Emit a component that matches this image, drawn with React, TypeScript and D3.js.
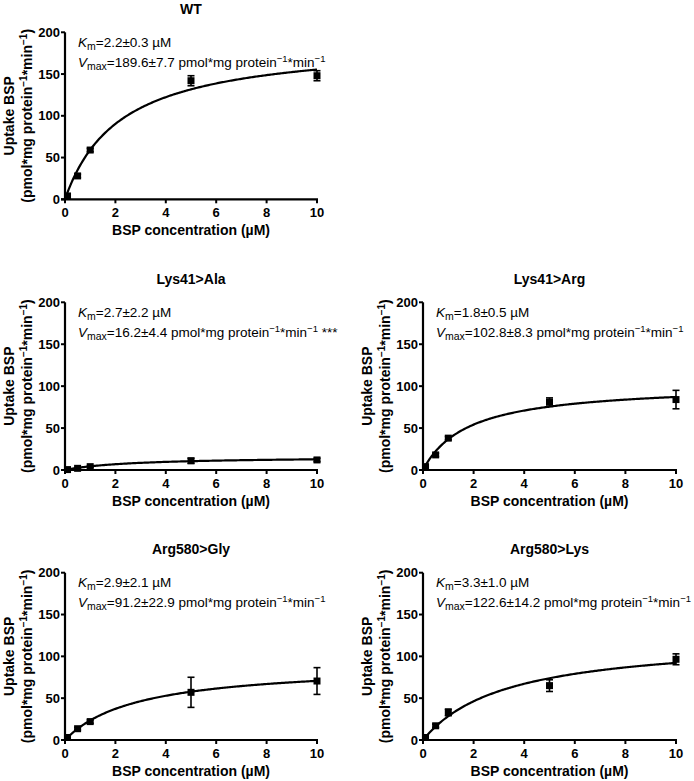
import React from "react";
import * as d3 from "d3";

const conc = [0.1, 0.5, 1, 5, 10];
const xTicks = [0, 2, 4, 6, 8, 10];
const yTicks = [0, 50, 100, 150, 200];

const panelNames = ["WT", "Lys41>Ala", "Lys41>Arg", "Arg580>Gly", "Arg580>Lys"];
const kmText = ["2.2±0.3", "2.7±2.2", "1.8±0.5", "2.9±2.1", "3.3±1.0"];
const vmaxText = ["189.6±7.7", "16.2±4.4", "102.8±8.3", "91.2±22.9", "122.6±14.2"];
const vmaxSuffix = ["", " ***", "", "", ""];
const kmFit = [2.2, 2.7, 1.8, 2.9, 3.3];
const vmaxFit = [189.6, 16.2, 102.8, 91.2, 122.6];

const wtMean = [4, 28, 59, 142, 148];
const wtErr = [1, 2, 2, 6, 6];
const alaMean = [0.5, 2, 4, 11, 12];
const alaErr = [0.5, 1, 1, 3, 2];
const argMean = [4, 18, 38, 81, 84];
const argErr = [1, 2, 2, 5, 11];
const glyMean = [3, 13.5, 22, 57, 70.5];
const glyErr = [1, 1.5, 2, 18, 16];
const lysMean = [3, 17, 33, 65, 96.5];
const lysErr = [1, 2, 4, 7, 6.5];

const means = [wtMean, alaMean, argMean, glyMean, lysMean];
const errs = [wtErr, alaErr, argErr, glyErr, lysErr];

// layout
const layouts = [
  { x0: 65, x1: 317, yTop: 32.3, yBot: 199.3 },
  { x0: 65, x1: 317, yTop: 302.3, yBot: 470 },
  { x0: 423, x1: 676, yTop: 302.3, yBot: 470 },
  { x0: 65, x1: 317, yTop: 572.7, yBot: 740 },
  { x0: 423, x1: 676, yTop: 572.7, yBot: 740 },
];

const FONT = "'Liberation Sans', Arial, Helvetica, sans-serif";

function Panel({ i }: { i: number }) {
  const L = layouts[i];
  const x = d3.scaleLinear().domain([0, 10]).range([L.x0, L.x1]);
  const y = d3.scaleLinear().domain([0, 200]).range([L.yBot, L.yTop]);
  const km = kmFit[i];
  const vm = vmaxFit[i];
  const curveX = d3.range(0, 10.001, 0.05);
  const line = d3
    .line<number>()
    .x((d) => x(d))
    .y((d) => y((vm * d) / (km + d)));
  const cx = (L.x0 + L.x1) / 2;
  const cy = (L.yTop + L.yBot) / 2;
  const tick = 4;
  return (
    <g fontFamily={FONT}>
      <text x={cx} y={L.yTop - 18.5} textAnchor="middle" fontWeight="bold" fontSize={14}>
        {panelNames[i]}
      </text>
      {/* axes */}
      <line x1={L.x0} x2={L.x0} y1={L.yTop} y2={L.yBot} stroke="#000" strokeWidth={2.2} />
      <line x1={L.x0 - tick} x2={L.x1 + 1} y1={L.yBot} y2={L.yBot} stroke="#000" strokeWidth={2.2} />
      {yTicks.map((t) => (
        <g key={"y" + t}>
          <line x1={L.x0 - tick} x2={L.x0} y1={y(t)} y2={y(t)} stroke="#000" strokeWidth={2} />
          <text x={L.x0 - tick - 1} y={y(t)} dy="0.35em" textAnchor="end" fontWeight="bold" fontSize={13}>
            {t}
          </text>
        </g>
      ))}
      {xTicks.map((t) => (
        <g key={"x" + t}>
          <line x1={x(t)} x2={x(t)} y1={L.yBot} y2={L.yBot + tick} stroke="#000" strokeWidth={2} />
          <text x={x(t)} y={L.yBot + 18} textAnchor="middle" fontWeight="bold" fontSize={13}>
            {t}
          </text>
        </g>
      ))}
      <text x={cx} y={L.yBot + 35.7} textAnchor="middle" fontWeight="bold" fontSize={14}>
        BSP concentration (µM)
      </text>
      {/* y label */}
      <g transform={`translate(${L.x0 - 51},${cy}) rotate(-90)`}>
        <text x={0} y={0} textAnchor="middle" fontWeight="bold" fontSize={14}>
          Uptake BSP
        </text>
      </g>
      <g transform={`translate(${L.x0 - 33},${cy}) rotate(-90)`}>
        <text x={0} y={0} textAnchor="middle" fontWeight="bold" fontSize={14}>
          (pmol*mg protein
          <tspan dy={-5} fontSize={10}>−1</tspan>
          <tspan dy={5}>*min</tspan>
          <tspan dy={-5} fontSize={10}>−1</tspan>
          <tspan dy={5}>)</tspan>
        </text>
      </g>
      {/* annotation */}
      <text x={L.x0 + 13} y={L.yTop + 14.5} fontSize={13.5}>
        <tspan fontStyle="italic">K</tspan>
        <tspan dy={3} fontSize={10.5}>m</tspan>
        <tspan dy={-3}>{"=" + kmText[i] + " µM"}</tspan>
      </text>
      <text x={L.x0 + 13} y={L.yTop + 34.5} fontSize={13.5}>
        <tspan fontStyle="italic">V</tspan>
        <tspan dy={3} fontSize={10.5}>max</tspan>
        <tspan dy={-3}>{"=" + vmaxText[i] + " pmol*mg protein"}</tspan>
        <tspan dy={-5} fontSize={9.5}>−1</tspan>
        <tspan dy={5}>*min</tspan>
        <tspan dy={-5} fontSize={9.5}>−1</tspan>
        <tspan dy={5}>{vmaxSuffix[i]}</tspan>
      </text>
      {/* fit */}
      <path d={line(curveX) || ""} fill="none" stroke="#000" strokeWidth={2.2} />
      {/* data */}
      {conc.map((c, j) => {
        const m = means[i][j];
        const e = errs[i][j];
        const px = x(c);
        return (
          <g key={"p" + j}>
            <line x1={px} x2={px} y1={y(m - e)} y2={y(m + e)} stroke="#000" strokeWidth={1.6} />
            <line x1={px - 3.5} x2={px + 3.5} y1={y(m + e)} y2={y(m + e)} stroke="#000" strokeWidth={1.6} />
            <line x1={px - 3.5} x2={px + 3.5} y1={y(m - e)} y2={y(m - e)} stroke="#000" strokeWidth={1.6} />
            <rect x={px - 3.5} y={y(m) - 3.5} width={7} height={7} fill="#000" />
          </g>
        );
      })}
    </g>
  );
}

export default function App() {
  return (
    <svg
      width={694}
      height={781}
      style={{ position: "absolute", left: 0, top: 0, background: "#fff" }}
    >
      <rect width={694} height={781} fill="#fff" />
      {panelNames.map((_, i) => (
        <Panel key={i} i={i} />
      ))}
    </svg>
  );
}
